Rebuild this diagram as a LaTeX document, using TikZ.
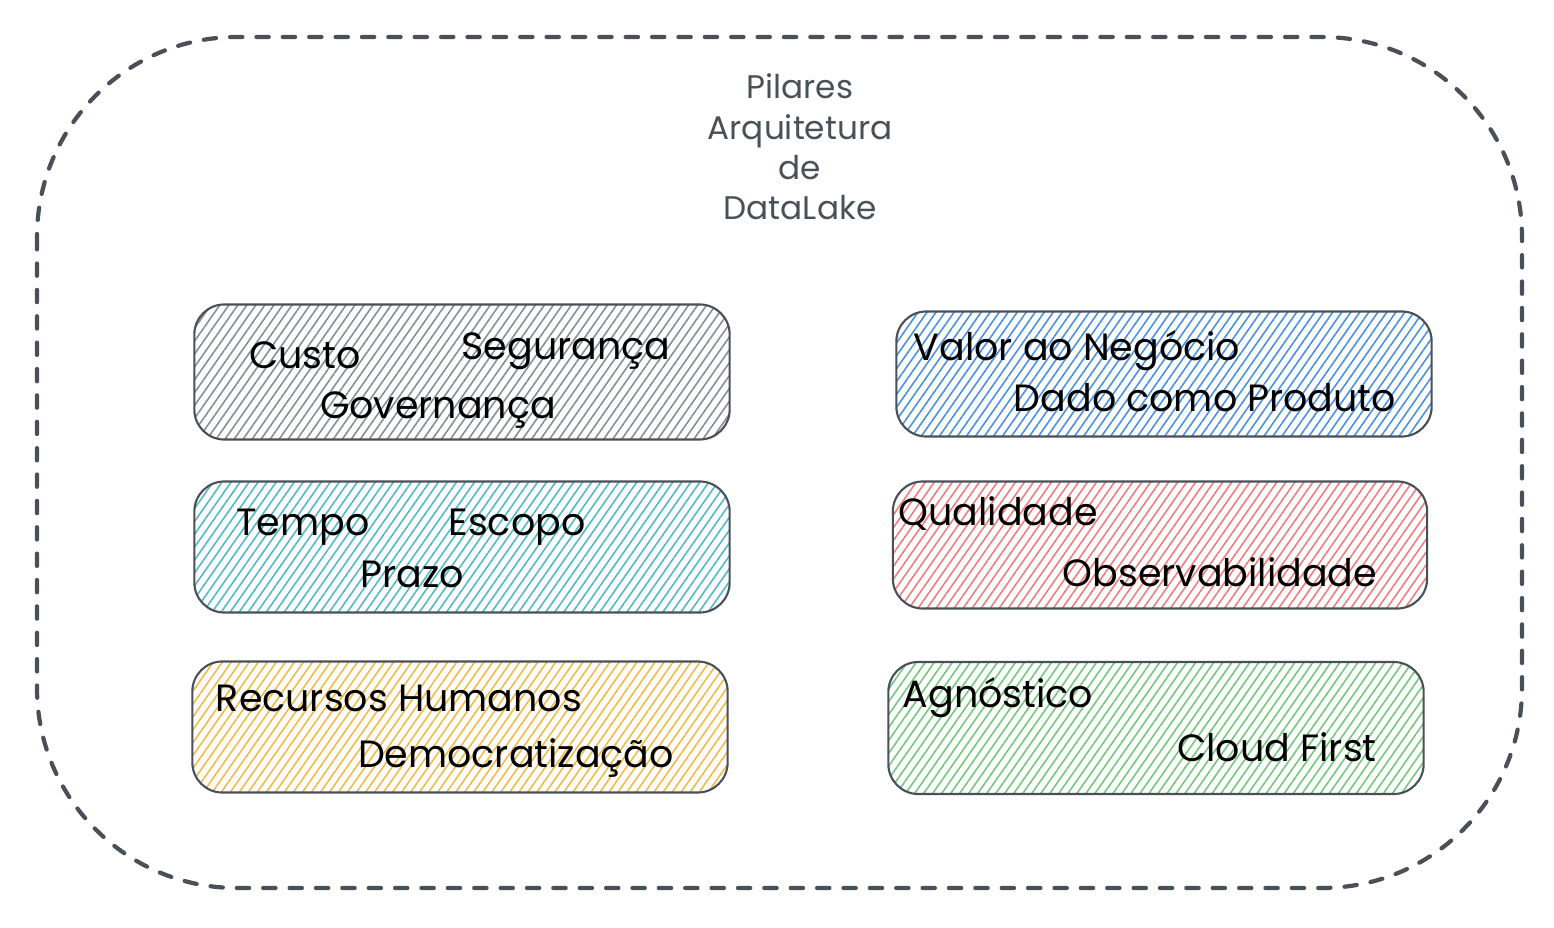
\documentclass[tikz,border=0pt]{standalone}
\usepackage{fontspec}
\setmainfont{Poppins}
\usetikzlibrary{patterns.meta}
\definecolor{inkgray}{RGB}{73,80,87}
\definecolor{hgray}{RGB}{134,142,150}
\definecolor{hblue}{RGB}{74,144,226}
\definecolor{hcyan}{RGB}{80,185,200}
\definecolor{hred}{RGB}{240,125,125}
\definecolor{hyellow}{RGB}{245,185,70}
\definecolor{hgreen}{RGB}{115,200,125}

\begin{document}
\begin{tikzpicture}[x=0.01cm, y=-0.01cm,
    pillar/.style={draw=inkgray, line width=0.6pt, rounded corners=0.3cm,
      minimum width=5.35cm, minimum height=1.3cm,
      pattern={Lines[angle=55, distance=2.1pt, line width=0.45pt]}},
    word/.style={font=\fontsize{10.8}{13}\selectfont, text=black},
    title/.style={font=\fontsize{9.3}{11.5}\selectfont, text=inkgray, align=center}
  ]
    \useasboundingbox (0,0) rectangle (1554,928);
    % outer frame
    \draw[inkgray, line width=1.2pt, dash pattern=on 3.5pt off 4pt, line cap=round,
      rounded corners=2cm] (37,37) rectangle (1522,888);
    \node[title] (titulo) at (800,147) {Pilares\\Arquitetura\\de\\DataLake};

    % left column
    \node[pillar, pattern color=hgray, minimum height=1.35cm] (custo) at (462,372) {};
    \node[word] (w1) at (305,355) {Custo};
    \node[word] (w2) at (566,351) {Segurança};
    \node[word] (w3) at (438,410) {Governança};

    \node[pillar, pattern color=hcyan, minimum height=1.31cm] (tempo) at (462,547) {};
    \node[word] (w4) at (303,527) {Tempo};
    \node[word] (w5) at (517,527) {Escopo};
    \node[word] (w6) at (412,574) {Prazo};

    \node[pillar, pattern color=hyellow, minimum height=1.31cm] (recursos) at (460,727) {};
    \node[word] (w7) at (399,698) {Recursos Humanos};
    \node[word] (w8) at (516,758) {Democratização};

    % right column
    \node[pillar, pattern color=hblue, minimum height=1.25cm] (valor) at (1164,374) {};
    \node[word] (w9) at (1077,351) {Valor ao Negócio};
    \node[word] (w10) at (1205,398) {Dado como Produto};

    \node[pillar, pattern color=hred, minimum height=1.27cm, minimum width=5.34cm] (qualidade) at (1160,545) {};
    \node[word] (w11) at (998,514) {Qualidade};
    \node[word] (w12) at (1220,572) {Observabilidade};

    \node[pillar, pattern color=hgreen, minimum height=1.32cm] (agnostico) at (1156,728) {};
    \node[word] (w13) at (998,698) {Agnóstico};
    \node[word] (w14) at (1277,747) {Cloud First};
\end{tikzpicture}
\end{document}
